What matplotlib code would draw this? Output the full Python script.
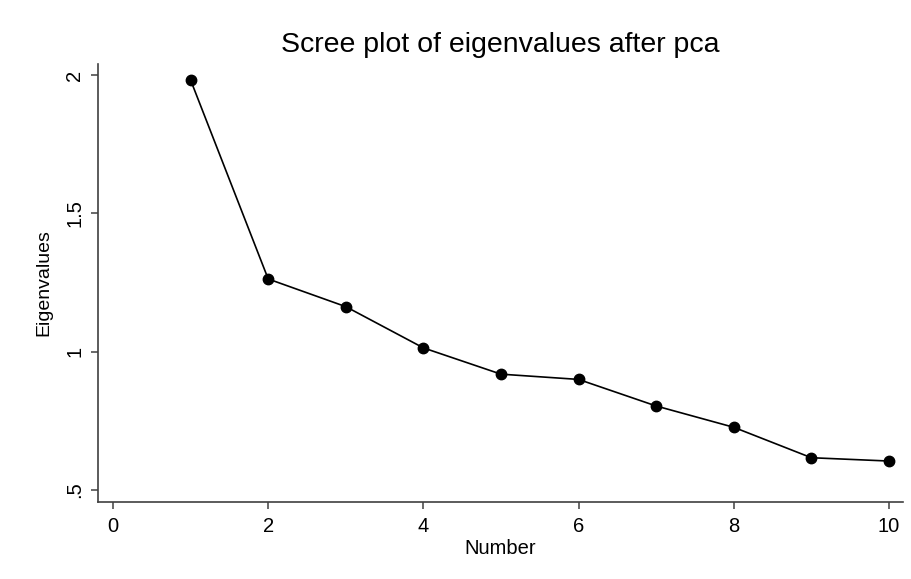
import matplotlib
matplotlib.use("Agg")
import matplotlib.pyplot as plt

# valeurs
numbers = [1, 2, 3, 4, 5, 6, 7, 8, 9, 10]
eigenvalues = [1.982, 1.263, 1.163, 1.014, 0.919, 0.900, 0.804, 0.727, 0.617, 0.605]
x_ticks = [0, 2, 4, 6, 8, 10]
y_ticks = [0.5, 1.0, 1.5, 2.0]
y_tick_labels = [".5", "1", "1.5", "2"]

plt.rcParams['font.family'] = ['Liberation Sans', 'DejaVu Sans']

fig = plt.figure(figsize=(9.12, 5.79), dpi=100)
ax = fig.add_axes([0.1075, 0.133, 0.8825, 0.7565])

ax.plot(numbers, eigenvalues, color='black', linewidth=1.2,
        marker='o', markersize=7.5, markerfacecolor='black', markeredgecolor='black')

ax.set_xlim(-0.193, 10.18)
ax.set_ylim(0.457, 2.04)
ax.set_xticks(x_ticks)
ax.set_yticks(y_ticks)
ax.set_yticklabels(y_tick_labels, rotation=90, va='center')

for side in ['top', 'right']:
    ax.spines[side].set_visible(False)
for side in ['left', 'bottom']:
    ax.spines[side].set_color('#404040')
    ax.spines[side].set_linewidth(1.2)

ax.tick_params(axis='both', direction='out', length=5, width=1.1,
               color='#404040', labelsize=14.5)
ax.tick_params(axis='x', pad=6)
ax.tick_params(axis='y', pad=5)

ax.set_xlabel("Number", fontsize=14.5, labelpad=2)
ax.set_ylabel("Eigenvalues", fontsize=14, labelpad=9)
fig.text(0.548, 0.922, "Scree plot of eigenvalues after pca", fontsize=20.5,
         ha='center', va='center')

fig.savefig("out.png", dpi=100)
